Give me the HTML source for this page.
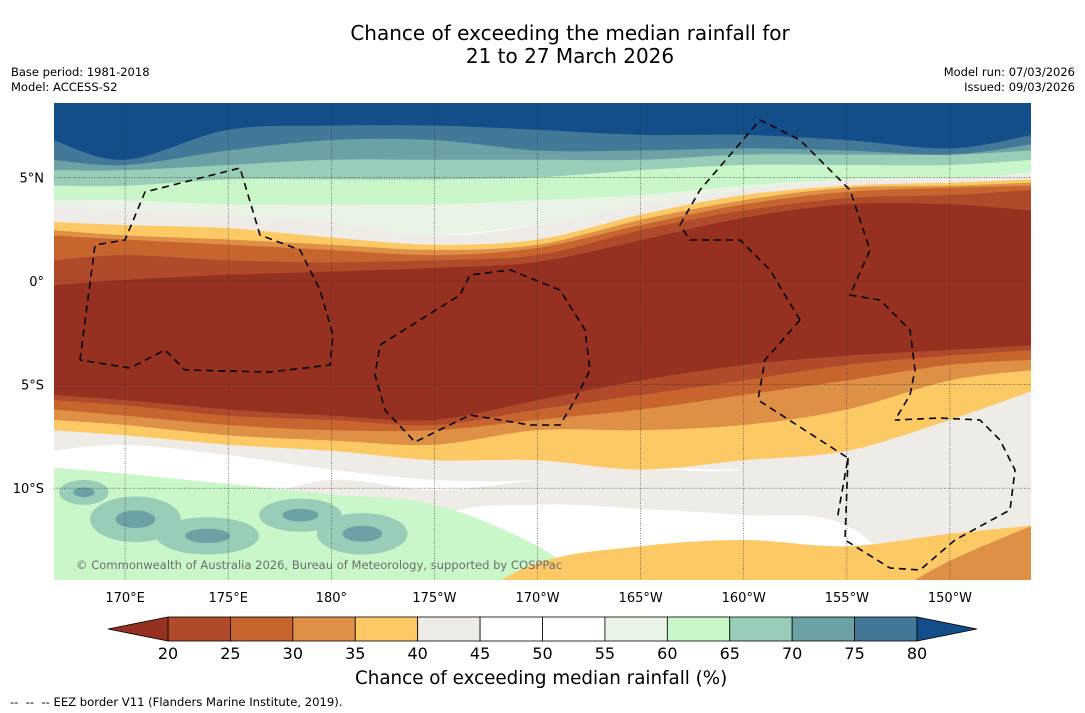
<!DOCTYPE html>
<html><head><meta charset="utf-8">
<style>
html,body{margin:0;padding:0;background:#fff;}
body{width:1085px;height:713px;position:relative;font-family:"DejaVu Sans","Liberation Sans",sans-serif;overflow:hidden;}
.t{position:absolute;color:#000;white-space:nowrap;}
</style></head>
<body>
<div class="t" style="left:0;width:1140px;top:22px;text-align:center;font-size:20px;line-height:23px;">Chance of exceeding the median rainfall for<br>21 to 27 March 2026</div>
<div class="t" style="left:11px;top:65px;font-size:11.5px;line-height:15px;">Base period: 1981-2018<br>Model: ACCESS-S2</div>
<div class="t" style="right:10px;top:65px;font-size:11.5px;line-height:15px;text-align:right;">Model run: 07/03/2026<br>Issued: 09/03/2026</div>
<svg id="map" width="1085" height="713" style="position:absolute;left:0;top:0;">
<defs><clipPath id="clip"><rect x="54" y="103" width="977" height="477"/></clipPath></defs>
<g id="fills" clip-path="url(#clip)"></g>
<g id="grid" clip-path="url(#clip)"></g>
<g id="eez" clip-path="url(#clip)" fill="none" stroke="#000" stroke-width="1.6" stroke-dasharray="7,5"></g>
<g id="axes"></g>
<g id="cbar"></g>
</svg>
<div class="t" style="left:76px;top:558px;font-size:11.55px;color:#6e6e6e;">© Commonwealth of Australia 2026, Bureau of Meteorology, supported by COSPPac</div>
<div class="t" style="left:355px;top:668px;font-size:18.3px;">Chance of exceeding median rainfall (%)</div>
<div class="t" style="left:10px;top:695px;font-size:11.6px;">-- &nbsp;-- &nbsp;-- EEZ border V11 (Flanders Marine Institute, 2019).</div>
<script>
// Colorbar data
const levels=[20,25,30,35,40,45,50,55,60,65,70,75,80];
const binColors=["#b04a2b","#c8652f","#de9046","#fdc964","#efebe6","#ffffff","#ffffff","#e9f4e7","#c9f7c9","#98cdb8","#6ca2a6","#447898"];
const lowColor="#963020", highColor="#134e8a";
// Map axes data
const lonTicks=[170,175,180,185,190,195,200,205,210];
const lonLabels=["170°E","175°E","180°","175°W","170°W","165°W","160°W","155°W","150°W"];
const latTicks=[5,0,-5,-10];
const latLabels=["5°N","0°","5°S","10°S"];
// Field sample longitudes (degrees east)
const lons=[166.5,170,175,180,185,190,195,200,205,210,214];
// North wet bands: southern edge latitude per longitude
const north=[
 {c:"#e9f4e7",e:[2.95,2.85,2.7,2.35,2.2,2.7,3.4,4.0,4.3,4.4,4.5]},
 {c:"#c9f7c9",e:[3.9,3.9,3.7,3.7,3.7,3.9,4.15,4.6,4.9,4.9,5.25]},
 {c:"#98cdb8",e:[4.6,4.6,4.9,4.9,4.9,5.0,5.35,5.6,5.6,5.6,5.85]},
 {c:"#6ca2a6",e:[5.35,5.35,5.6,5.85,5.85,5.85,5.85,6.1,6.1,6.1,6.3]},
 {c:"#447898",e:[5.85,5.6,6.3,6.8,6.8,6.3,6.3,6.4,6.3,6.1,6.6]},
 {c:"#134e8a",e:[6.8,5.85,7.3,7.5,7.5,7.3,7.05,7.05,6.8,6.4,7.05]}
];
// Southern dry bands: north edge and south edge latitudes
const south=[
 {c:"#efebe6",n:[3.7,3.4,3.2,2.85,2.2,2.7,3.7,4.4,4.9,5.0,5.1],s:[-8.2,-7.9,-8.4,-9.1,-9.6,-9.6,-9.1,-9.1,-9.1,-8.6,-8.2]},
 {c:"#fdc964",n:[2.85,2.7,2.55,2.1,1.75,2.0,3.2,4.15,4.6,4.75,4.9],s:[-7.2,-7.45,-7.9,-8.2,-8.65,-8.65,-9.1,-8.65,-8.2,-6.7,-5.3]},
 {c:"#de9046",n:[2.45,2.2,2.0,1.75,1.5,1.75,2.95,3.9,4.5,4.6,4.75],s:[-6.7,-6.95,-7.45,-7.7,-7.9,-7.2,-7.2,-6.95,-6.2,-4.8,-4.3]},
 {c:"#c8652f",n:[2.2,2.0,1.75,1.5,1.25,1.6,2.7,3.7,4.3,4.5,4.6],s:[-6.2,-6.5,-6.95,-7.2,-7.2,-6.7,-6.2,-5.5,-4.8,-4.05,-3.8]},
 {c:"#b04a2b",n:[1.0,1.25,1.0,0.9,1.0,1.25,2.45,3.4,4.0,4.15,4.4],s:[-5.75,-6.0,-6.5,-6.7,-6.95,-6.2,-5.5,-4.8,-4.05,-3.6,-3.33]},
 {c:"#963020",n:[-0.2,0.05,0.3,0.45,0.63,0.92,1.97,3.05,3.7,3.7,3.4],s:[-5.5,-5.75,-6.2,-6.5,-6.7,-5.75,-4.8,-4.05,-3.6,-3.33,-3.1]}
];
// Far-south background regions (north edge latitude, extend to map bottom)
const farSouth=[
 {c:"#efebe6",n:[-9.1,-9.6,-10.6,-9.6,-10.1,-9.6,-9.1,-9.1,-7.7,-6.7,-6.2]},
 {c:"#ffffff",n:[-16,-16,-16,-16,-11.5,-10.8,-11.0,-11.3,-11.8,-16,-16]},
 {c:"#c9f7c9",n:[-9.0,-9.3,-9.8,-10.3,-10.8,-12.8,-16,-16,-16,-16,-16]},
 {c:"#fdc964",n:[-16,-16,-16,-16,-16,-13.6,-12.8,-12.5,-12.8,-12.2,-11.8]},
 {c:"#de9046",n:[-16,-16,-16,-16,-16,-16,-16,-16,-16,-13.5,-11.8]}
];
// Teal patches in the south-west: [lon, lat, radius lon, radius lat]
const tealPatches=[[170.5,-11.5,2.2,1.1],[174,-12.3,2.5,0.9],[178.5,-11.3,2.0,0.8],[181.5,-12.2,2.2,1.0],[168,-10.2,1.2,0.6]];
const X=lon=>54+(lon-166.55)*20.62;
const Y=lat=>281-lat*20.72;
const NS="http://www.w3.org/2000/svg";
function mk(tag,attrs,parent){const e=document.createElementNS(NS,tag);for(const k in attrs)e.setAttribute(k,attrs[k]);parent.appendChild(e);return e;}
function smooth(pts){let d="M"+pts[0][0]+","+pts[0][1];for(let i=0;i<pts.length-1;i++){const p0=pts[Math.max(i-1,0)],p1=pts[i],p2=pts[i+1],p3=pts[Math.min(i+2,pts.length-1)];
 const c1=[p1[0]+(p2[0]-p0[0])/6,p1[1]+(p2[1]-p0[1])/6],c2=[p2[0]-(p3[0]-p1[0])/6,p2[1]-(p3[1]-p1[1])/6];
 d+=" C"+c1[0]+","+c1[1]+" "+c2[0]+","+c2[1]+" "+p2[0]+","+p2[1];}return d;}
const fills=document.getElementById("fills");
let r=mk("rect",{x:54,y:103,width:977,height:477,fill:"#fff"},fills);


farSouth.forEach((b,i)=>{const top=lons.map((l,j)=>[X(l),Y(b.n[j])]);
 const d=smooth(top)+" L"+X(lons[lons.length-1])+",600 L"+X(lons[0])+",600 Z";
 const p=mk("path",{d:d,fill:b.c},fills);
 
 });
tealPatches.forEach(t=>{
 const e=mk("ellipse",{cx:X(t[0]),cy:Y(t[1]),rx:t[2]*20.62,ry:t[3]*20.72,fill:"#98cdb8"},fills);
 
 
 const e2=mk("ellipse",{cx:X(t[0]),cy:Y(t[1]),rx:t[2]*9,ry:t[3]*8,fill:"#6ca2a6"},fills);
 
 });
// right-side green patch
const rp=mk("ellipse",{cx:X(209),cy:Y(-6.9),rx:95,ry:30,fill:"#c9f7c9"},fills);


const rp2=mk("ellipse",{cx:X(212),cy:Y(-6.9),rx:45,ry:18,fill:"#98cdb8"},fills);


north.forEach((b,i)=>{const bot=lons.map((l,j)=>[X(l),Y(b.e[j])]);
 const d=smooth(bot)+" L"+X(lons[lons.length-1])+",90 L"+X(lons[0])+",90 Z";
 const p=mk("path",{d:d,fill:b.c},fills);
 
 });
south.forEach((b,i)=>{const top=lons.map((l,j)=>[X(l),Y(b.n[j])]);const bot=lons.map((l,j)=>[X(l),Y(b.s[j])]).reverse();
 const d=smooth(top)+" L"+bot[0][0]+","+bot[0][1]+smooth(bot).replace(/^M[^ ]+/,"")+" Z";
 const p=mk("path",{d:d,fill:b.c},fills);
 
 });
// grid
const grid=document.getElementById("grid"),axes=document.getElementById("axes");
lonTicks.forEach((l,i)=>{const g=mk("line",{x1:X(l),x2:X(l),y1:103,y2:580,stroke:"#333","stroke-width":0.6,"stroke-dasharray":"1,1.5"},grid);
 
 
 const t=mk("text",{x:X(l),y:602,"text-anchor":"middle","font-size":13,"font-family":"DejaVu Sans, sans-serif"},axes);t.textContent=lonLabels[i];
 
 });
latTicks.forEach((l,i)=>{const g=mk("line",{x1:54,x2:1031,y1:Y(l),y2:Y(l),stroke:"#333","stroke-width":0.6,"stroke-dasharray":"1,1.5"},grid);
 
 
 const t=mk("text",{x:44,y:Y(l)+5,"text-anchor":"end","font-size":13,"font-family":"DejaVu Sans, sans-serif"},axes);t.textContent=latLabels[i];
 
 });
// EEZ borders (decorative geography)
const eez=document.getElementById("eez");
["M80,360 L95,245 L125,240 L145,192 L240,168 L260,235 L300,250 L320,290 L333,335 L330,365 L270,372 L185,370 L165,350 L130,368 L80,360",
 "M380,345 L460,295 L470,275 L510,270 L560,290 L585,330 L590,370 L575,400 L560,425 L530,425 L470,415 L415,442 L385,410 L375,375 Z",
 "M680,225 L700,190 L760,120 L800,140 L850,190 L870,250 L850,295 L880,300 L910,330 L915,370 L910,395 L895,420",
 "M800,320 L770,270 L740,240 L690,240 L680,225 M800,320 L765,360 L758,400 L848,458 L837,520",
 "M848,458 L845,540 L890,568 L920,570 L955,540 L1010,510 L1015,470 L1000,440 L980,420 L940,418 L895,420"].forEach(d=>{
 const p=mk("path",{d:d},eez);
 
 });
// colorbar
const cb=document.getElementById("cbar");
const cx0=168,cx1=917,cy=617,ch=24,bw=(cx1-cx0)/binColors.length;
binColors.forEach((c,i)=>{const b=mk("rect",{x:cx0+i*bw,y:cy,width:bw,height:ch,fill:c,stroke:"#000","stroke-width":0.8},cb);
 
 });
let tl=mk("polygon",{points:`${cx0},${cy} 108,${cy+ch/2} ${cx0},${cy+ch}`,fill:lowColor,stroke:"#000","stroke-width":0.8},cb);


let th=mk("polygon",{points:`${cx1},${cy} 977,${cy+ch/2} ${cx1},${cy+ch}`,fill:highColor,stroke:"#000","stroke-width":0.8},cb);


levels.forEach((v,i)=>{const t=mk("text",{x:cx0+i*bw,y:659,"text-anchor":"middle","font-size":16,"font-family":"DejaVu Sans, sans-serif"},cb);t.textContent=v;
 
 });
</script>
</body></html>
